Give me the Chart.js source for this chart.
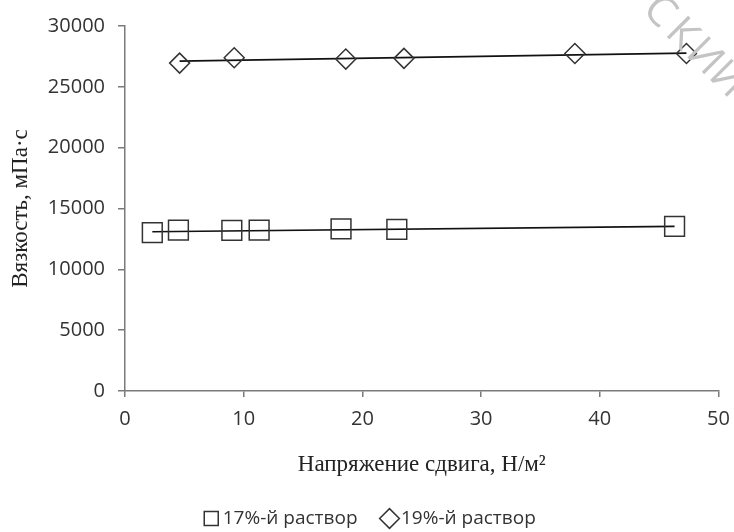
<!DOCTYPE html>
<html>
<head>
<meta charset="utf-8">
<script src="https://cdn.jsdelivr.net/npm/chart.js@4/dist/chart.umd.min.js"></script>
<style>
html,body{margin:0;padding:0;background:#fff;}
#wrap{width:734px;height:532px;position:relative;}
</style>
</head>
<body>
<div id="wrap"><canvas id="c" width="734" height="532"></canvas></div>
<script>
// ---- data ----
const seriesNames = ['17%-й раствор', '19%-й раствор'];
const stress17 = [2.3, 4.5, 9.0, 11.3, 18.2, 22.9, 46.3];
const visc17   = [13010, 13230, 13200, 13230, 13330, 13290, 13530];
const stress19 = [4.6, 9.2, 18.6, 23.5, 37.9, 47.3];
const visc19   = [26950, 27390, 27280, 27340, 27740, 27740];
// trend line end points
const trend17X = [2.3, 46.3];
const trend17Y = [13090, 13530];
const trend19X = [4.6, 47.3];
const trend19Y = [27110, 27770];
const xTicks = [0, 10, 20, 30, 40, 50];
const yTicks = [0, 5000, 10000, 15000, 20000, 25000, 30000];
const xTitle = 'Напряжение сдвига, Н/м²';
const yTitle = 'Вязкость, мПа·с';
const watermark = 'СКИЙ';

const pts = (xs, ys) => xs.map((x, i) => ({x: x, y: ys[i]}));

const markerColor = '#333333';
const axisColor = '#7a7a7a';
const tickFont = {family: '"Open Sans"', size: 20};
const serif = {family: '"Liberation Serif"', size: 23};

const watermarkPlugin = {
  id: 'wm',
  afterDraw(chart) {
    const ctx = chart.ctx;
    ctx.save();
    ctx.translate(659, 12);
    ctx.rotate(45 * Math.PI / 180);
    ctx.font = '42px "Open Sans"';
    ctx.fillStyle = '#c4c4c4';
    ctx.textBaseline = 'middle';
    ctx.textAlign = 'center';
    const chars = Array.from(watermark);
    chars.forEach((ch, i) => ctx.fillText(ch, i * 32, 0));
    ctx.restore();
  }
};

// shift the legend box slightly to the right, as in the reference
const legendShift = {
  id: 'legendShift',
  afterLayout(chart) {
    if (chart.legend) { chart.legend.left += 12; chart.legend.right += 12; }
  }
};

new Chart(document.getElementById('c'), {
  type: 'scatter',
  data: {
    datasets: [
      {
        label: seriesNames[0],
        data: pts(stress17, visc17),
        pointStyle: 'rect',
        pointRadius: 14,
        pointHoverRadius: 14,
        backgroundColor: 'rgba(0,0,0,0)',
        borderColor: markerColor,
        pointBorderWidth: 1.5,
        showLine: false,
        order: 1
      },
      {
        label: seriesNames[1],
        data: pts(stress19, visc19),
        pointStyle: 'rectRot',
        pointRadius: 10,
        pointHoverRadius: 10,
        backgroundColor: 'rgba(0,0,0,0)',
        borderColor: markerColor,
        pointBorderWidth: 1.5,
        showLine: false,
        order: 1
      },
      {
        label: 'trend17',
        data: pts(trend17X, trend17Y),
        showLine: true,
        pointRadius: 0,
        borderColor: '#111',
        borderWidth: 1.6,
        fill: false,
        order: 2
      },
      {
        label: 'trend19',
        data: pts(trend19X, trend19Y),
        showLine: true,
        pointRadius: 0,
        borderColor: '#111',
        borderWidth: 1.6,
        fill: false,
        order: 2
      }
    ]
  },
  options: {
    responsive: false,
    animation: false,
    layout: {padding: {left: 0, right: 13, top: 26, bottom: -6}},
    plugins: {
      tooltip: {enabled: false},
      legend: {
        position: 'bottom',
        labels: {
          filter: (item) => item.datasetIndex < 2,
          usePointStyle: true,
          boxHeight: 14,
          boxWidth: 4,
          padding: 30,
          color: '#333',
          font: {family: '"Open Sans"', size: 19}
        }
      }
    },
    scales: {
      x: {
        type: 'linear',
        min: 0, max: 50,
        afterBuildTicks: (s) => { s.ticks = xTicks.map(v => ({value: v})); },
        afterFit: (s) => { s.height = 88; s.paddingRight = 0; s.paddingLeft = 0; },
        border: {display: true, color: axisColor, width: 1.5},
        grid: {display: true, drawOnChartArea: false, drawTicks: true, tickLength: 6, color: axisColor, lineWidth: 1.5},
        ticks: {font: tickFont, color: '#333', padding: 10, maxRotation: 0},
        title: {display: true, text: xTitle, font: serif, color: '#222', padding: {top: 4, bottom: 0}}
      },
      y: {
        type: 'linear',
        min: 0, max: 30000,
        afterBuildTicks: (s) => { s.ticks = yTicks.map(v => ({value: v})); },
        afterFit: (s) => { s.width = 125; s.paddingTop = 0; s.paddingBottom = 0; },
        border: {display: true, color: axisColor, width: 1.5},
        grid: {display: true, drawOnChartArea: false, drawTicks: true, tickLength: 7, color: axisColor, lineWidth: 1.5},
        ticks: {font: tickFont, color: '#333', padding: 13, callback: (v) => String(v)},
        title: {display: true, text: yTitle, font: serif, color: '#222', padding: {top: 7, bottom: 0}}
      }
    }
  },
  plugins: [watermarkPlugin, legendShift]
});
</script>
</body>
</html>
